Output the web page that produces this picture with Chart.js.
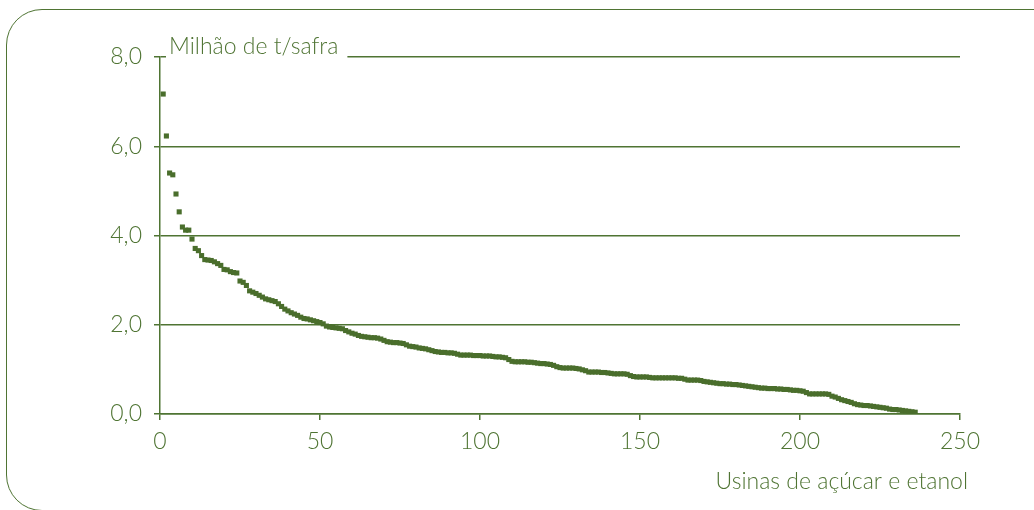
<!DOCTYPE html>
<html>
<head>
<meta charset="utf-8">
<script src="https://cdn.jsdelivr.net/npm/chart.js@4"></script>
<style>
  html, body { margin: 0; padding: 0; background: #fff; overflow: hidden; }
  #wrap { position: relative; width: 1034px; height: 510px; }
  #frame { position: absolute; left: 6px; top: 9px; width: 1080px; height: 502px;
           border: 1.5px solid #4f7433; border-radius: 36px; box-sizing: border-box; }
  canvas { position: absolute; left: 0; top: 0; }
</style>
</head>
<body>
<div id="wrap">
  <div id="frame"></div>
  <canvas id="c" width="1034" height="510"></canvas>
</div>
<script>
// Production per mill (million t / harvest), ranked descending
const usinaIndex = [];
const producao = [
  7.17, 6.23, 5.40, 5.36, 4.93, 4.53, 4.19, 4.12, 4.12, 3.92,
  3.71, 3.66, 3.55, 3.46, 3.45, 3.44, 3.41, 3.37, 3.33, 3.24,
  3.23, 3.19, 3.17, 3.16, 2.98, 2.95, 2.88, 2.76, 2.73, 2.70,
  2.66, 2.62, 2.58, 2.56, 2.54, 2.52, 2.47, 2.41, 2.35, 2.31,
  2.27, 2.24, 2.21, 2.17, 2.14, 2.13, 2.11, 2.09, 2.07, 2.05,
  2.02, 1.97, 1.95, 1.94, 1.93, 1.92, 1.91, 1.87, 1.84, 1.81,
  1.79, 1.76, 1.74, 1.73, 1.72, 1.71, 1.71, 1.70, 1.68, 1.65,
  1.62, 1.61, 1.60, 1.60, 1.59, 1.58, 1.55, 1.52, 1.51, 1.50,
  1.48, 1.47, 1.46, 1.44, 1.42, 1.40, 1.39, 1.38, 1.38, 1.37,
  1.37, 1.36, 1.34, 1.32, 1.32, 1.32, 1.32, 1.31, 1.31, 1.31,
  1.30, 1.30, 1.30, 1.29, 1.28, 1.28, 1.27, 1.26, 1.22, 1.18,
  1.17, 1.17, 1.17, 1.17, 1.16, 1.16, 1.15, 1.14, 1.13, 1.13,
  1.12, 1.11, 1.09, 1.06, 1.04, 1.03, 1.03, 1.03, 1.03, 1.02,
  1.01, 0.99, 0.97, 0.94, 0.94, 0.94, 0.94, 0.93, 0.93, 0.92,
  0.91, 0.90, 0.90, 0.90, 0.90, 0.89, 0.86, 0.84, 0.83, 0.83,
  0.83, 0.83, 0.82, 0.81, 0.81, 0.81, 0.81, 0.81, 0.81, 0.81,
  0.81, 0.80, 0.80, 0.78, 0.76, 0.76, 0.76, 0.76, 0.75, 0.73,
  0.72, 0.71, 0.70, 0.69, 0.68, 0.68, 0.67, 0.67, 0.66, 0.66,
  0.65, 0.64, 0.63, 0.62, 0.61, 0.60, 0.59, 0.58, 0.58, 0.57,
  0.57, 0.57, 0.56, 0.56, 0.55, 0.55, 0.54, 0.53, 0.53, 0.52,
  0.51, 0.48, 0.45, 0.45, 0.45, 0.45, 0.45, 0.45, 0.44, 0.40,
  0.38, 0.35, 0.32, 0.30, 0.28, 0.26, 0.23, 0.21, 0.20, 0.19,
  0.19, 0.18, 0.17, 0.16, 0.15, 0.14, 0.13, 0.11, 0.10, 0.10,
  0.09, 0.08, 0.07, 0.06, 0.05, 0.04
];
for (let i = 0; i < producao.length; i++) usinaIndex.push(i + 1);

const xTicks = [0, 50, 100, 150, 200, 250];
const yTicks = [0, 2, 4, 6, 8];
const yTitle = 'Milhão de t/safra';
const xTitle = 'Usinas de açúcar e etanol';

const GREEN = '#4f7433';
const FONT = 'Lato, "Open Sans", sans-serif';
const FSIZE = 23;
const FWEIGHT = '300';

const points = producao.map((v, i) => ({ x: usinaIndex[i], y: v }));

const titlesPlugin = {
  id: 'titles',
  afterDraw(chart) {
    const ctx = chart.ctx;
    const area = chart.chartArea;
    ctx.save();
    ctx.font = FWEIGHT + ' ' + FSIZE + 'px ' + FONT;
    ctx.textBaseline = 'middle';
    const w = ctx.measureText(yTitle).width;
    const yTop = chart.scales.y.getPixelForValue(8);
    ctx.fillStyle = '#fff';
    ctx.fillRect(area.left + 6, yTop - 14, w + 12, 16);
    ctx.fillStyle = GREEN;
    ctx.textAlign = 'left';
    ctx.fillText(yTitle, area.left + 9, yTop - 10);
    ctx.textAlign = 'right';
    ctx.fillText(xTitle, area.right + 8, 482);
    ctx.restore();
  }
};

new Chart(document.getElementById('c'), {
  type: 'scatter',
  data: {
    datasets: [{
      data: points,
      pointStyle: 'rect',
      pointRadius: 3.6,
      pointHoverRadius: 3.6,
      backgroundColor: '#4a6e2c',
      borderColor: '#4a6e2c',
      borderWidth: 0
    }]
  },
  options: {
    responsive: false,
    animation: false,
    devicePixelRatio: 1,
    layout: { padding: { left: 0, top: 57, right: 74, bottom: 0 } },
    plugins: { legend: { display: false }, tooltip: { enabled: false } },
    scales: {
      x: {
        type: 'linear',
        min: 0, max: 250,
        afterBuildTicks: s => { s.ticks = xTicks.map(v => ({ value: v })); },
        afterFit: s => { s.height = 96; },
        grid: { drawOnChartArea: false, drawTicks: true, tickLength: 6, color: GREEN, lineWidth: 1.5 },
        border: { display: true, color: GREEN, width: 1.5 },
        ticks: { color: GREEN, font: { family: FONT, size: FSIZE, weight: FWEIGHT }, padding: 8, maxRotation: 0 }
      },
      y: {
        type: 'linear',
        min: 0, max: 8,
        afterBuildTicks: s => { s.ticks = yTicks.map(v => ({ value: v })); },
        afterFit: s => { s.width = 160; },
        grid: { drawOnChartArea: true, drawTicks: true, tickLength: 6, color: GREEN, lineWidth: 1.5 },
        border: { display: true, color: GREEN, width: 1.5 },
        ticks: {
          color: GREEN, font: { family: FONT, size: FSIZE, weight: FWEIGHT }, padding: 12,
          callback: v => v.toFixed(1).replace('.', ',')
        }
      }
    }
  },
  plugins: [titlesPlugin]
});
</script>
</body>
</html>
